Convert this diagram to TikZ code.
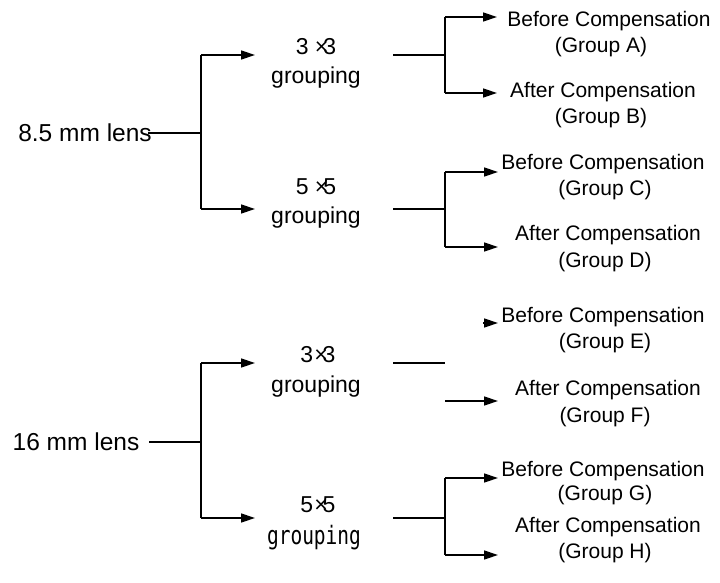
\documentclass[tikz,border=0pt]{standalone}
\usepackage{fontspec}
\setmainfont{Liberation Sans}
\newfontfamily\monofnt{DejaVu Sans Mono}
\usetikzlibrary{arrows.meta}
\begin{document}
\begin{tikzpicture}[x=1pt,y=-1pt,
  lbl/.style={inner sep=0pt,font=\fontsize{21}{24}\selectfont},
  big/.style={inner sep=0pt,font=\fontsize{24.5}{28}\selectfont},
  grp/.style={inner sep=0pt,font=\fontsize{23}{26}\selectfont},
  wire/.style={line width=1.4pt},
  arr/.style={line width=1.4pt,-{Triangle[length=14pt,width=9pt]}}]
\useasboundingbox (0,0) rectangle (720,583);
% ---------- top tree ----------
\node[big] (lensA) at (85,133) {8.5 mm lens};
\node[grp] (g33a) at (316,47) {3 ×\kern-5pt 3};
\node[grp] (g33at) at (316,78) {grouping};
\node[grp] (g55a) at (316,187) {5 ×\kern-5pt 5};
\node[grp] (g55at) at (316,218) {grouping};
\node[lbl] (bA) at (609,21) {Before Compensation};
\node[lbl] (gA) at (601,47) {(Group A)};
\node[lbl] (aB) at (603,92) {After Compensation};
\node[lbl] (gB) at (601,118) {(Group B)};
\node[lbl] (bC) at (603,164) {Before Compensation};
\node[lbl] (gC) at (605,190) {(Group C)};
\node[lbl] (aD) at (608,235) {After Compensation};
\node[lbl] (gD) at (605,262) {(Group D)};
\coordinate (jA) at (201,133);
\draw[wire] ([xshift=-4pt]lensA.east) -- (jA);
\coordinate (jA1) at (201,55);
\coordinate (jA2) at (201,209);
\draw[wire] (jA1) -- (jA2);
\coordinate (inA3) at (255,55);
\coordinate (inA5) at (255,209);
\draw[arr] (jA1) -- (inA3);
\draw[arr] (jA2) -- (inA5);
\coordinate (outA3) at (393,55);
\coordinate (kA) at (445,55);
\draw[wire] (outA3) -- (kA);
\coordinate (kA1) at (445,17);
\coordinate (kA2) at (445,93);
\draw[wire] (kA1) -- (kA2);
\draw[arr] (kA1) -- (497,17);
\draw[arr] (kA2) -- (497,93);
\coordinate (outA5) at (393,209);
\coordinate (kB) at (445,209);
\draw[wire] (outA5) -- (kB);
\coordinate (kB1) at (445,172);
\coordinate (kB2) at (445,247);
\draw[wire] (kB1) -- (kB2);
\draw[arr] (kB1) -- (498,172);
\draw[arr] (kB2) -- (498,247);
% ---------- bottom tree ----------
\node[big] (lensB) at (76,442) {16 mm lens};
\node[grp] (g33b) at (318,355) {3\kern1pt×\kern-5pt 3};
\node[grp] (g33bt) at (316,387) {grouping};
\node[grp] (g55b) at (318,505) {5\kern1pt×\kern-5pt 5};
\node[inner sep=0pt,font=\monofnt\fontsize{19.5}{22}\selectfont] (g55bt) at (314,538) {\scalebox{1}[1.3]{grouping}};
\node[lbl] (bE) at (603,317) {Before Compensation};
\node[lbl] (gE) at (605,343) {(Group E)};
\node[lbl] (aF) at (608,390) {After Compensation};
\node[lbl] (gF) at (605,417) {(Group F)};
\node[lbl] (bG) at (603,471) {Before Compensation};
\node[lbl] (gG) at (605,495) {(Group G)};
\node[lbl] (aH) at (608,527) {After Compensation};
\node[lbl] (gH) at (605,553) {(Group H)};
\coordinate (jB) at (201,442);
\draw[wire] (149,442) -- (jB);
\coordinate (jB1) at (201,363);
\coordinate (jB2) at (201,518);
\draw[wire] (jB1) -- (jB2);
\draw[arr] (jB1) -- (255,363);
\draw[arr] (jB2) -- (255,518);
\draw[wire] (393,363) -- (445,363);
\coordinate (stubE) at (483,323);
\draw[arr] (stubE) -- (498,323);
\draw[arr] (445,401) -- (498,401);
\draw[wire] (393,518) -- (445,518);
\coordinate (kG1) at (445,478);
\coordinate (kG2) at (445,555);
\draw[wire] (kG1) -- (kG2);
\draw[arr] (kG1) -- (498,478);
\draw[arr] (kG2) -- (498,555);
\end{tikzpicture}
\end{document}
